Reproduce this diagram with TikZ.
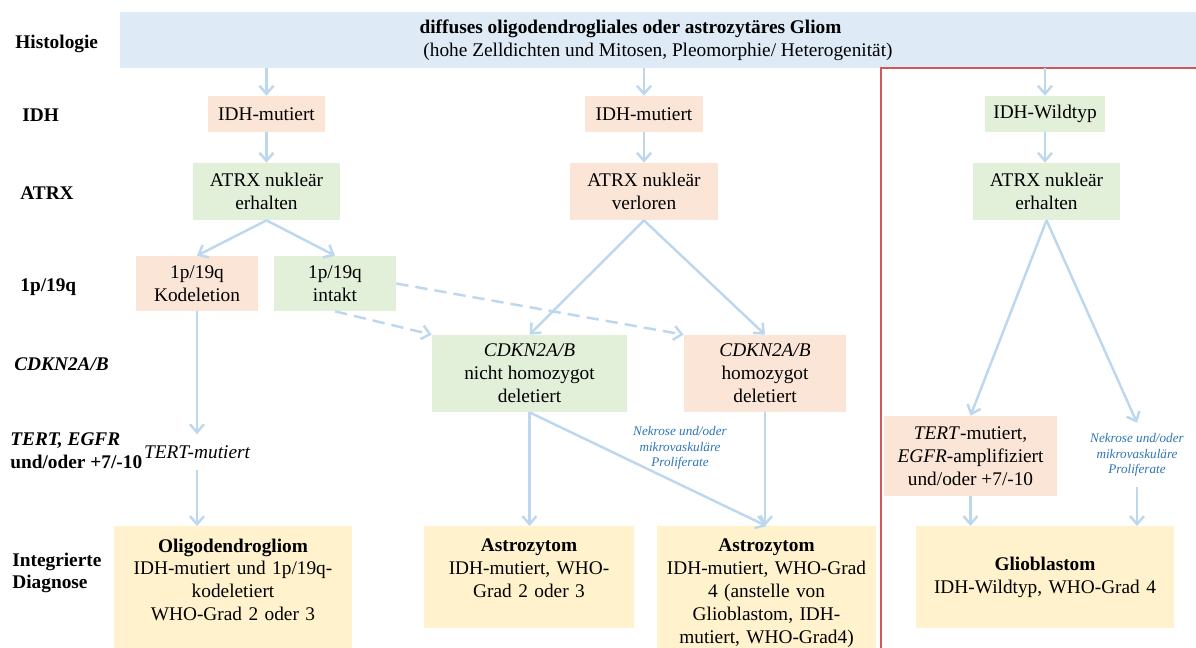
\documentclass[tikz,border=0pt]{standalone}
\usepackage{fontspec}
\setmainfont{Liberation Serif}
\usetikzlibrary{positioning,arrows.meta}
\definecolor{CBar}{HTML}{DEEBF7}
\definecolor{CPeach}{HTML}{FBE5D6}
\definecolor{CGreen}{HTML}{E2F0D9}
\definecolor{CYellow}{HTML}{FFF2CC}
\definecolor{CArrow}{HTML}{BDD7EE}
\definecolor{CNote}{HTML}{2E75B6}
\definecolor{CRed}{HTML}{D0575A}

\begin{document}
\begin{tikzpicture}[x=0.02cm, y=-0.02cm,
  box/.style={inner sep=1pt, align=center, font=\fontsize{11}{13}\selectfont},
  peachbox/.style={box, fill=CPeach},
  greenbox/.style={box, fill=CGreen},
  diagbox/.style={box, fill=CYellow, anchor=north, inner ysep=0.24cm},
  rowlabel/.style={inner sep=0pt, anchor=west, align=left, font=\fontsize{11}{13}\selectfont\bfseries},
  note/.style={inner xsep=1pt, inner ysep=0.2cm, align=center, text=CNote, font=\fontsize{7.5}{9}\selectfont\itshape},
  flow/.style={CArrow, line width=1.4pt, -{Straight Barb[length=1.6mm,width=2.8mm]}},
  flowdash/.style={flow, dash pattern=on 7pt off 4pt}]
\useasboundingbox (0,0) rectangle (1196,648);
% row labels
\node[rowlabel] (lhisto) at (15,44) {Histologie};
\node[rowlabel] (lidh) at (22,115) {IDH};
\node[rowlabel] (latrx) at (20,193) {ATRX};
\node[rowlabel] (lchrom) at (20,287) {1p/19q};
\node[rowlabel] (lcdkn) at (14,364) {\textit{CDKN2A/B}};
\node[rowlabel] (ltert) at (10,451) {\textit{TERT, EGFR}\\und/oder +7/-10};
\node[rowlabel] (ldiag) at (12,573) {Integrierte\\Diagnose};
% histology bar
\node[box, fill=CBar, minimum width=21.52cm, minimum height=1.12cm] (histo) at (658,40)
  {\textbf{diffuses oligodendrogliales oder astrozytäres Gliom}\hspace*{1.1cm}\\(hohe Zelldichten und Mitosen, Pleomorphie/ Heterogenität)};
\draw[CRed, line width=0.85pt] (881,648) -- (881,68) -- (1196,68);
% IDH and ATRX
\node[peachbox, minimum width=2.34cm, minimum height=0.72cm] (idhA) at (266.5,114) {IDH-mutiert};
\node[peachbox, minimum width=2.36cm, minimum height=0.72cm] (idhB) at (644,114) {IDH-mutiert};
\node[greenbox, minimum width=2.4cm, minimum height=0.72cm] (idhC) at (1045,114) {IDH-Wildtyp};
\node[greenbox, minimum width=2.94cm, minimum height=1.14cm] (atrxA) at (266.5,191.5) {ATRX nukleär\\erhalten};
\node[peachbox, minimum width=2.96cm, minimum height=1.14cm] (atrxB) at (644,191.5) {ATRX nukleär\\verloren};
\node[greenbox, minimum width=2.94cm, minimum height=1.14cm] (atrxC) at (1046.5,191.5) {ATRX nukleär\\erhalten};
% 1p/19q and CDKN2A/B
\node[peachbox, minimum width=2.44cm, minimum height=1.1cm] (kodel) at (197,283.5) {1p/19q\\Kodeletion};
\node[greenbox, minimum width=2.44cm, minimum height=1.1cm] (intakt) at (335,283.5) {1p/19q\\intakt};
\node[greenbox, minimum width=3.9cm, minimum height=1.54cm] (cdknA) at (529.5,373.5) {\textit{CDKN2A/B}\\nicht homozygot\\deletiert};
\node[peachbox, minimum width=3.24cm, minimum height=1.54cm] (cdknB) at (765,373.5) {\textit{CDKN2A/B}\\homozygot\\deletiert};
% TERT, EGFR
\node[box, inner ysep=0.22cm, font=\fontsize{11}{13}\selectfont\itshape] (tertA) at (197,452) {TERT-mutiert};
\node[note] (nekA) at (680,448) {Nekrose und/oder\\mikrovaskuläre\\Proliferate};
\node[peachbox, minimum width=3.46cm, minimum height=1.6cm] (tertB) at (970.5,456) {\textit{TERT}-mutiert,\\\textit{EGFR}-amplifiziert\\und/oder +7/-10};
\node[note] (nekB) at (1137,455) {Nekrose und/oder\\mikrovaskuläre\\Proliferate};
% integrated diagnosis
\node[diagbox, text width=4.6cm, minimum width=4.76cm, minimum height=2.44cm, text depth=1.68cm] (oligo) at (233,526)
  {\textbf{Oligodendrogliom}\\IDH-mutiert und 1p/19q-\\kodeletiert\\WHO-Grad 2 oder 3};
\node[diagbox, text width=4.0cm, minimum width=4.2cm, minimum height=2.04cm, text depth=1.28cm] (astroA) at (529,526)
  {\textbf{Astrozytom}\\IDH-mutiert, WHO-\\Grad 2 oder 3};
\node[diagbox, text width=4.2cm, minimum width=4.38cm, minimum height=2.44cm, text depth=1.68cm] (astroB) at (766.5,526)
  {\textbf{Astrozytom}\\IDH-mutiert, WHO-Grad\\4 (anstelle von\\Glioblastom, IDH-\\mutiert, WHO-Grad4)};
\node[diagbox, text width=5.0cm, minimum width=5.16cm, minimum height=2.04cm] (glio) at (1045,526)
  {\textbf{Glioblastom}\\IDH-Wildtyp, WHO-Grad 4};
% connectors
\draw[flow] (histo.south -| idhA.north) -- (idhA.north);
\draw[flow] (histo.south -| idhB.north) -- (idhB.north);
\draw[flow] (histo.south -| idhC.north) -- (idhC.north);
\draw[flow] (idhA) -- (atrxA);
\draw[flow] (idhB) -- (atrxB);
\draw[flow] (idhC.south) -- (idhC.south |- atrxC.north);
\draw[flow] (atrxA.south) -- (kodel.north);
\draw[flow] (atrxA.south) -- (intakt.north);
\draw[flow] (atrxB.south) -- (cdknA.north);
\draw[flow] (atrxB.south) -- (cdknB.north);
\draw[flowdash] (intakt.south) -- (cdknA.north west);
\draw[flowdash] (intakt.east) -- (cdknB.north west);
\draw[flow] (kodel) -- (tertA);
\draw[flow] (tertA.south) -- (tertA.south |- oligo.north);
\draw[flow] (cdknA.south) -- (cdknA.south |- astroA.north);
\draw[flow] (cdknA.south) -- (astroB.north);
\draw[flow] (cdknB.south) -- (cdknB.south |- astroB.north);
\draw[flow] (atrxC.south) -- (tertB.north);
\draw[flow] (atrxC.south) -- (nekB.north);
\draw[flow] (tertB.south) -- (tertB.south |- glio.north);
\draw[flow] (nekB.south) -- (nekB.south |- glio.north);
\end{tikzpicture}
\end{document}
